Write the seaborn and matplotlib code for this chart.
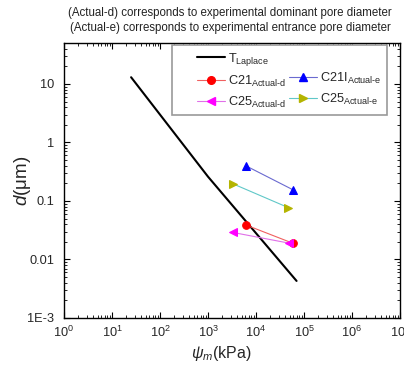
import numpy as np
import pandas as pd
import matplotlib
matplotlib.use("Agg")
import matplotlib.pyplot as plt
import matplotlib.ticker as mticker
from matplotlib.lines import Line2D
from matplotlib.patches import Rectangle
import seaborn as sns

# ---- data ----
laplace_psi = [25, 1000, 70000]
laplace_d = [13, 0.26, 0.0043]

c21d_psi = [6100, 58000]
c21d_d = [0.039, 0.019]

c21e_psi = [6100, 60000]
c21e_d = [0.40, 0.154]

c25d_psi = [3270, 49000]
c25d_d = [0.029, 0.019]

c25e_psi = [3370, 47000]
c25e_d = [0.195, 0.077]

xtick_vals = [1e0, 1e1, 1e2, 1e3, 1e4, 1e5, 1e6, 1e7]
xtick_labels = [r"$10^{0}$", r"$10^{1}$", r"$10^{2}$", r"$10^{3}$", r"$10^{4}$",
                r"$10^{5}$", r"$10^{6}$", r"$10^{7}$"]
ytick_vals = [1e-3, 1e-2, 1e-1, 1, 10]
ytick_labels = ["1E-3", "0.01", "0.1", "1", "10"]

notes = ["(Actual-d) corresponds to experimental dominant pore diameter",
         "(Actual-e) corresponds to experimental entrance pore diameter"]

sns.set_style("ticks")
plt.rcParams["font.family"] = ["Liberation Sans", "DejaVu Sans"]
plt.rcParams["mathtext.fontset"] = "custom"
plt.rcParams["mathtext.rm"] = "Liberation Sans"
plt.rcParams["mathtext.it"] = "Liberation Sans:italic"

W, H = 404, 371
fig = plt.figure(figsize=(W / 100, H / 100), dpi=100)
AX_L, AX_R, AX_T, AX_B = 64, 400, 43, 318
ax = fig.add_axes([AX_L / W, 1 - AX_B / H, (AX_R - AX_L) / W, (AX_B - AX_T) / H])

def ax_x(px):
    return (px - AX_L) / (AX_R - AX_L)

def ax_y(py):
    return (AX_B - py) / (AX_B - AX_T)

sns.lineplot(x=laplace_psi, y=laplace_d, ax=ax, color="black", lw=1.5,
             sort=False, estimator=None)

series = [
    (c21d_psi, c21d_d, "#f06060", "#ff0000", "o"),
    (c21e_psi, c21e_d, "#6a6ad0", "#0000ff", "^"),
    (c25d_psi, c25d_d, "#e070e8", "#ff00ff", "<"),
    (c25e_psi, c25e_d, "#60c8c8", "#b4b400", ">"),
]
for xs, ys, lc, mc, mk in series:
    sns.lineplot(x=xs, y=ys, ax=ax, color=lc, lw=0.8, sort=False, estimator=None,
                 marker=mk, markersize=5.5, markerfacecolor=mc, markeredgecolor=mc)

ax.set_xscale("log")
ax.set_yscale("log")
ax.set_xlim(1, 1e7)
ax.set_ylim(1e-3, 50)

ax.xaxis.set_major_locator(mticker.FixedLocator(xtick_vals))
ax.xaxis.set_major_formatter(mticker.FixedFormatter(xtick_labels))
ax.xaxis.set_minor_locator(mticker.LogLocator(base=10, subs=np.arange(2, 10), numticks=20))
ax.xaxis.set_minor_formatter(mticker.NullFormatter())
ax.yaxis.set_major_locator(mticker.FixedLocator(ytick_vals))
ax.yaxis.set_major_formatter(mticker.FixedFormatter(ytick_labels))
ax.yaxis.set_minor_locator(mticker.LogLocator(base=10, subs=np.arange(2, 10), numticks=20))
ax.yaxis.set_minor_formatter(mticker.NullFormatter())

ax.tick_params(which="both", direction="in", top=True, right=True, color="black")
ax.tick_params(axis="y", which="major", labelsize=9.2, pad=7)
ax.tick_params(axis="x", which="major", labelsize=9.2, pad=5)
ax.tick_params(which="major", length=4, width=0.8)
ax.tick_params(which="minor", length=2, width=0.6)
for s in ax.spines.values():
    s.set_color("black")
    s.set_linewidth(1.0)

ax.set_xlabel(r"$\psi_{m}$(kPa)", fontsize=11.5)
ax.xaxis.set_label_coords(ax_x(221), ax_y(344))
ax.set_ylabel(r"$d$($\mathrm{\mu}$m)", fontsize=13.5)
ax.yaxis.set_label_coords(ax_x(33), 0.5)

# legend frame
ax.add_patch(Rectangle((ax_x(172), ax_y(115)), ax_x(387) - ax_x(172), ax_y(45) - ax_y(115),
                       transform=ax.transAxes, facecolor="white", edgecolor="#999999",
                       lw=1.2, zorder=4))

hy = "\u2010"
handles = [
    Line2D([], [], color="black", lw=1.5),
    Line2D([], [], color="#f06060", lw=0.8, marker="o", ms=5.5, mfc="#ff0000", mec="#ff0000"),
    Line2D([], [], color="#e070e8", lw=0.8, marker="<", ms=5.5, mfc="#ff00ff", mec="#ff00ff"),
    Line2D([], [], color="none"),
    Line2D([], [], color="#6a6ad0", lw=0.8, marker="^", ms=5.5, mfc="#0000ff", mec="#0000ff"),
    Line2D([], [], color="#60c8c8", lw=0.8, marker=">", ms=5.5, mfc="#b4b400", mec="#b4b400"),
]
labels = [
    r"T$_{\mathrm{Laplace}}$",
    r"C21$_{\mathrm{Actual" + hy + r"d}}$",
    r"C25$_{\mathrm{Actual" + hy + r"d}}$",
    "",
    r"C21I$_{\mathrm{Actual" + hy + r"e}}$",
    r"C25$_{\mathrm{Actual" + hy + r"e}}$",
]
leg = ax.legend(handles, labels, ncol=2, loc="upper left",
                bbox_to_anchor=(ax_x(197), ax_y(51)), borderaxespad=0,
                fontsize=9.2, frameon=False,
                handlelength=2.2, handletextpad=0.2,
                columnspacing=0.3, labelspacing=0.45, borderpad=0)
leg.set_zorder(5)

fig.text(230 / W, 1 - 13 / H, notes[0], ha="center", va="center", fontsize=8.3, color="#222222")
fig.text(230 / W, 1 - 28 / H, notes[1], ha="center", va="center", fontsize=8.3, color="#222222")

fig.savefig("out.png", dpi=100)
